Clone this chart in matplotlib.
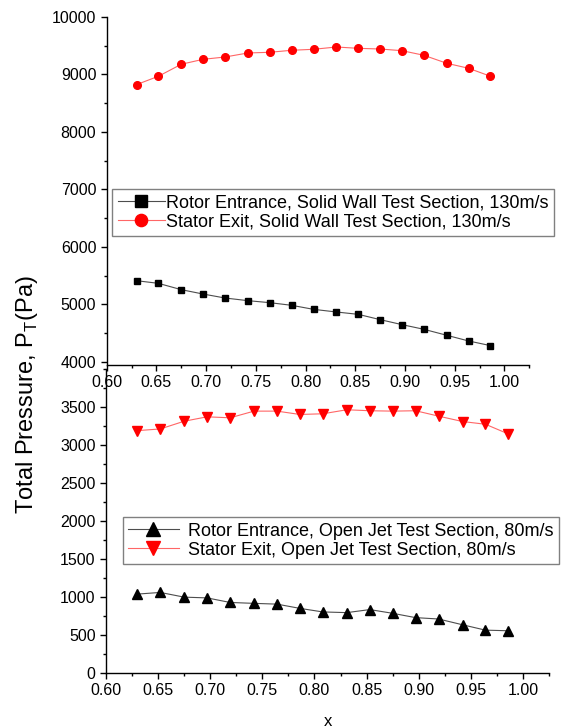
from matplotlib import pyplot as plt
from matplotlib.ticker import MultipleLocator, FormatStrFormatter

plt.rcParams['font.family'] = ['Liberation Sans', 'DejaVu Sans']

# radial positions (same for every series)
x = [0.630, 0.652, 0.675, 0.697, 0.719, 0.742, 0.764, 0.786, 0.808,
     0.831, 0.853, 0.875, 0.897, 0.919, 0.942, 0.964, 0.986]

# solid wall test section, 130 m/s
rotor_solid = [5411, 5365, 5255, 5179, 5110, 5064, 5029, 4983, 4913,
               4867, 4826, 4734, 4647, 4566, 4462, 4363, 4282]
stator_solid = [8820, 8965, 9174, 9260, 9300, 9370, 9382, 9417, 9434,
                9474, 9451, 9439, 9410, 9330, 9191, 9104, 8965]

# open jet test section, 80 m/s
rotor_open = [1040, 1062, 1000, 990, 930, 918, 908, 852, 805,
              796, 836, 787, 730, 712, 636, 565, 557]
stator_open = [3194, 3216, 3318, 3376, 3363, 3451, 3451, 3407, 3416,
               3469, 3456, 3451, 3456, 3385, 3314, 3278, 3150]

labels_solid = ['Rotor Entrance, Solid Wall Test Section, 130m/s',
                'Stator Exit, Solid Wall Test Section, 130m/s']
labels_open = ['Rotor Entrance, Open Jet Test Section, 80m/s',
               'Stator Exit, Open Jet Test Section, 80m/s']

FS = 11.5
LEG_FS = 13


def style(ax):
    for s in ['top', 'right']:
        ax.spines[s].set_visible(False)
    for s in ['left', 'bottom']:
        ax.spines[s].set_linewidth(1.0)
    ax.set_facecolor('none')
    ax.tick_params(which='both', direction='out', labelsize=FS, width=1.0)
    ax.tick_params(which='major', length=4)
    ax.tick_params(which='minor', length=2)
    ax.set_xlim(0.6, 1.025)
    ax.xaxis.set_major_locator(MultipleLocator(0.05))
    ax.xaxis.set_minor_locator(MultipleLocator(0.025))
    ax.xaxis.set_major_formatter(FormatStrFormatter('%.2f'))


def legend(ax, fig, loc_xy, hl=2.4, pad=0.1):
    leg = ax.legend(loc='upper left', bbox_to_anchor=loc_xy,
                    bbox_transform=fig.transFigure, borderaxespad=0,
                    fontsize=LEG_FS, frameon=True, fancybox=False,
                    edgecolor='0.5', framealpha=1, markerscale=1.6,
                    handlelength=hl, handletextpad=pad,
                    borderpad=0.3, labelspacing=0.1)
    leg.get_frame().set_linewidth(1.0)
    return leg


fig = plt.figure(figsize=(5.63, 7.28), dpi=100)
ax1 = fig.add_axes([0.1895, 0.4990, 0.7506, 0.4780])
ax2 = fig.add_axes([0.1883, 0.0755, 0.7869, 0.4170])

# top panel
ax1.plot(x, rotor_solid, '-', color='0.3', lw=0.8, marker='s', ms=5,
         mfc='k', mec='k', label=labels_solid[0])
ax1.plot(x, stator_solid, '-', color='#ff6666', lw=0.8, marker='o', ms=5.5,
         mfc='red', mec='red', label=labels_solid[1])
style(ax1)
ax1.set_ylim(3950, 10000)
ax1.yaxis.set_major_locator(MultipleLocator(1000))
ax1.yaxis.set_minor_locator(MultipleLocator(500))
legend(ax1, fig, (0.1995, 0.740), hl=2.6)

# bottom panel
ax2.plot(x, rotor_open, '-', color='0.3', lw=0.8, marker='^', ms=6.5,
         mfc='k', mec='k', label=labels_open[0])
ax2.plot(x, stator_open, '-', color='#ff6666', lw=0.8, marker='v', ms=6.5,
         mfc='red', mec='red', label=labels_open[1])
style(ax2)
ax2.set_ylim(0, 4000)
ax2.set_yticks([0, 500, 1000, 1500, 2000, 2500, 3000, 3500])
ax2.yaxis.set_minor_locator(MultipleLocator(250))
ax2.set_xlabel('x', fontsize=12, labelpad=11)
legend(ax2, fig, (0.218, 0.2894), hl=2.8, pad=0.5)

fig.text(26.7 / 563, 1 - 395 / 728, 'Total Pressure, P$_\\mathregular{T}$(Pa)',
         rotation=90, ha='center', va='center', fontsize=17)

plt.savefig('out.png', dpi=100)
